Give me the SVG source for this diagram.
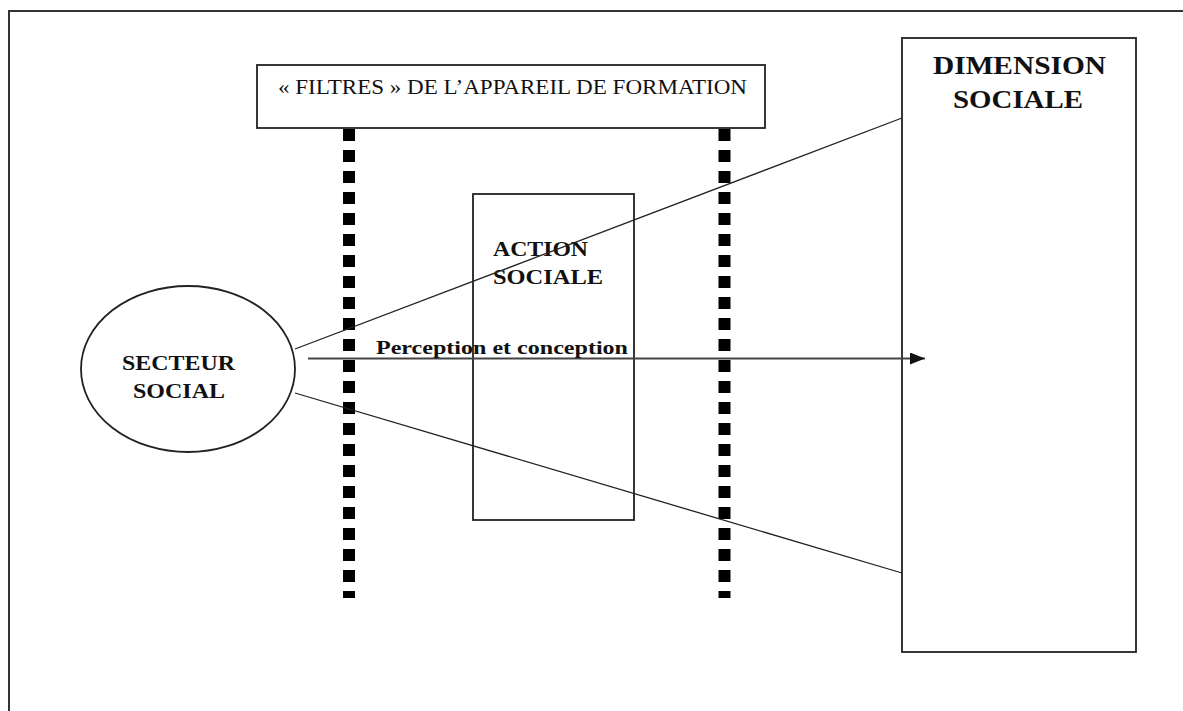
<svg xmlns="http://www.w3.org/2000/svg" width="1183" height="711" viewBox="0 0 1183 711">
  <defs>
    <style>
      .box { fill: #fff; stroke: #222; stroke-width: 1.8; }
      .thin { fill: none; stroke: #222; stroke-width: 1.3; }
      .filter { fill: none; stroke: #000; stroke-width: 12; stroke-dasharray: 12 9; }
      .bold { font-family: "Liberation Serif", "Times New Roman", serif; font-weight: bold; fill: #111; }
      .reg { font-family: "Liberation Serif", "Times New Roman", serif; fill: #111; }
    </style>
    <marker id="arrow" markerWidth="16" markerHeight="12" refX="15" refY="6" orient="auto" markerUnits="userSpaceOnUse">
      <path d="M0,0 L15,6 L0,12 Z" fill="#111"/>
    </marker>
  </defs>
  <rect x="0" y="0" width="1183" height="711" fill="#fff"/>
  <!-- page frame -->
  <path d="M9,711 V11 H1183" fill="none" stroke="#333" stroke-width="2"/>

  <g id="filtres">
    <rect class="box" x="257" y="65" width="508" height="63"/>
    <text class="reg" x="278" y="94" font-size="21" textLength="469" lengthAdjust="spacingAndGlyphs">« FILTRES » DE L’APPAREIL DE  FORMATION</text>
  </g>

  <g id="filter-left">
    <line class="filter" x1="349" y1="129" x2="349" y2="598"/>
  </g>
  <g id="filter-right">
    <line class="filter" x1="724.5" y1="129" x2="724.5" y2="598"/>
  </g>

  <g id="action-sociale">
    <rect class="box" x="473" y="194" width="161" height="326" style="fill:none"/>
    <text class="bold" x="493" y="256" font-size="21" textLength="95" lengthAdjust="spacingAndGlyphs">ACTION</text>
    <text class="bold" x="493" y="284" font-size="21" textLength="110" lengthAdjust="spacingAndGlyphs">SOCIALE</text>
  </g>

  <g id="dimension-sociale">
    <rect class="box" x="902" y="38" width="234" height="614"/>
    <text class="bold" x="933" y="74" font-size="26" textLength="173" lengthAdjust="spacingAndGlyphs">DIMENSION</text>
    <text class="bold" x="953" y="108" font-size="26" textLength="130" lengthAdjust="spacingAndGlyphs">SOCIALE</text>
  </g>

  <g id="secteur-social">
    <ellipse class="box" cx="188" cy="369" rx="107" ry="83"/>
    <text class="bold" x="122" y="370" font-size="22" textLength="113" lengthAdjust="spacingAndGlyphs">SECTEUR</text>
    <text class="bold" x="133" y="398" font-size="22" textLength="92" lengthAdjust="spacingAndGlyphs">SOCIAL</text>
  </g>

  <g id="connectors">
    <line class="thin" x1="295" y1="349" x2="902" y2="118"/>
    <line class="thin" x1="295" y1="393" x2="902" y2="573"/>
    <line x1="308" y1="358.5" x2="925" y2="358.5" stroke="#444" stroke-width="2" marker-end="url(#arrow)"/>
    <text class="bold" x="376" y="354" font-size="19" textLength="252" lengthAdjust="spacingAndGlyphs">Perception et conception</text>
  </g>
</svg>
